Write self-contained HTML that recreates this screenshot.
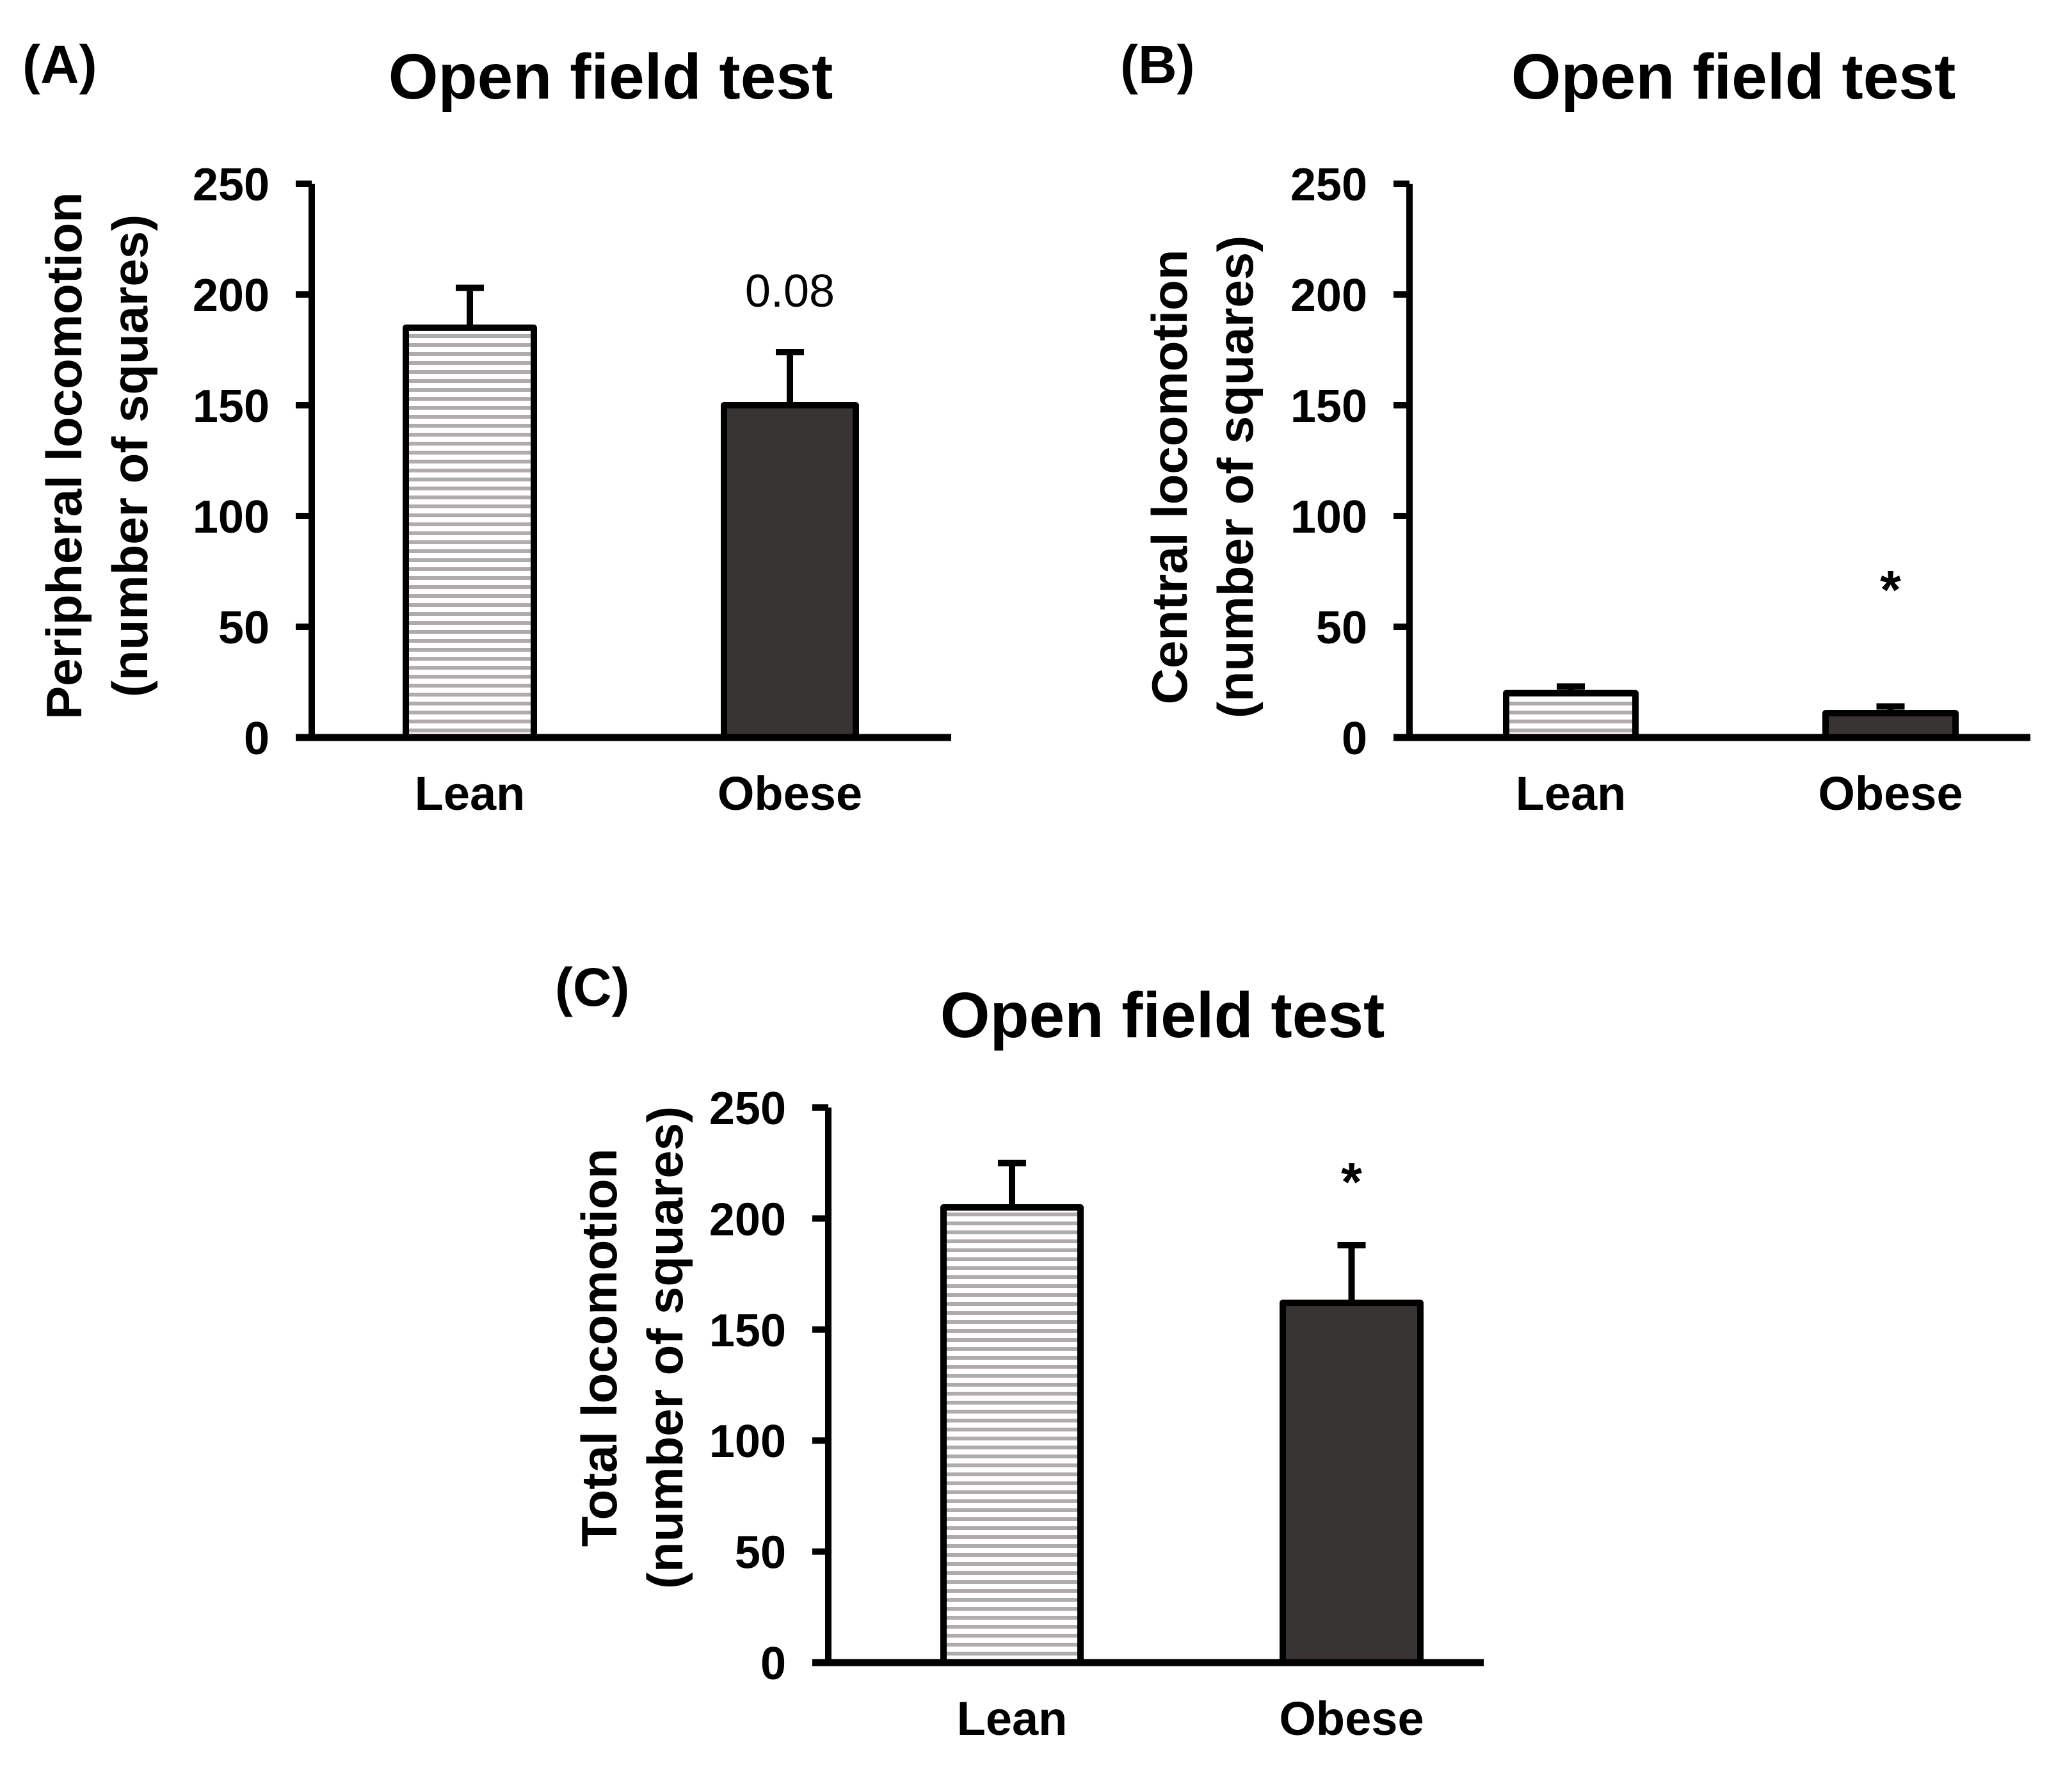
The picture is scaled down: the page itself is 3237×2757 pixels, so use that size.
<!DOCTYPE html>
<html><head><meta charset="utf-8"><style>
html,body{margin:0;padding:0;background:#fff;}
svg{display:block;}
text{font-family:"Liberation Sans",Arial,sans-serif;}
</style></head><body>
<svg id="fig" width="3237" height="2757" viewBox="0 0 3237 2757" xmlns="http://www.w3.org/2000/svg">
<defs>
<pattern id="hatch" patternUnits="userSpaceOnUse" width="20" height="14">
<rect width="20" height="14" fill="#fff"/>
<rect y="4" width="20" height="6" fill="#b0acab"/>
</pattern>
</defs>
</svg>
<script>
const categories = ["Lean", "Obese"];
const peripheralValues = [185, 150];
const peripheralErrors = [203, 174];
const centralValues = [20, 11];
const centralErrors = [23, 14];
const totalValues = [205, 162];
const totalErrors = [225, 188];
const tickLabels = [0, 50, 100, 150, 200, 250];
const yMax = 250;

const NS = "http://www.w3.org/2000/svg";
const svg = document.getElementById("fig");
function mk(tag, attrs, parent){
  const e = document.createElementNS(NS, tag);
  for (const k in attrs) e.setAttribute(k, attrs[k]);
  (parent || svg).appendChild(e);
  return e;
}

const panels = [
  {id:"a", letter:"(A)", lx:35, ly:130, title:"Open field test", tx:954, ty:154,
   ax:487, top:287, bottom:1152, xend:1486, bars:[[634,834],[1131,1337]],
   vals:peripheralValues, errs:peripheralErrors, ylab:["Peripheral locomotion","(number of squares)"],
   ylx:[100,203], yly:712, annot:{text:"0.08", idx:1, y:479, bold:false}},
  {id:"b", letter:"(B)", lx:1750, ly:130, title:"Open field test", tx:2708, ty:154,
   ax:2202, top:287, bottom:1152, xend:3172, bars:[[2353,2555],[2852,3055]],
   vals:centralValues, errs:centralErrors, ylab:["Central locomotion","(number of squares)"],
   ylx:[1827,1930], yly:745, annot:{text:"*", idx:1, y:950, bold:true}},
  {id:"c", letter:"(C)", lx:867, ly:1571, title:"Open field test", tx:1816, ty:1620,
   ax:1294, top:1730, bottom:2597, xend:2318, bars:[[1474,1688],[2004,2219]],
   vals:totalValues, errs:totalErrors, ylab:["Total locomotion","(number of squares)"],
   ylx:[936,1039], yly:2105, annot:{text:"*", idx:1, y:1875, bold:true}}
];

panels.forEach(p => {
  const g = mk("g", {});
  
  
  const yS = v => p.bottom - (v / yMax) * (p.bottom - p.top);

  const L = mk("text", {x:p.lx, y:p.ly, "font-size":84, "font-weight":"bold"}, g);
  L.textContent = p.letter;
  
  

  const T = mk("text", {x:p.tx, y:p.ty, "font-size":100, "font-weight":"bold", "text-anchor":"middle"}, g);
  T.textContent = p.title;
  
  

  categories.forEach((c, i) => {
    const [x0, x1] = p.bars[i];
    const cx = (x0 + x1) / 2;
    const yv = yS(p.vals[i]), ye = yS(p.errs[i]);
    const eb = mk("path", {d:`M${cx},${yv} L${cx},${ye} M${cx-22},${ye} L${cx+22},${ye}`, stroke:"#000", "stroke-width":10, fill:"none"}, g);
    
    
    const r = mk("rect", {x:x0, y:yv, width:x1-x0, height:p.bottom-yv,
      fill: i === 0 ? "url(#hatch)" : "#383434", stroke:"#000", "stroke-width":10, "stroke-linejoin":"round"}, g);
    
    
    const cl = mk("text", {x:cx, y:p.bottom + 113, "font-size":74, "font-weight":"bold", "text-anchor":"middle"}, g);
    cl.textContent = c;
    
    
  });

  const ya = mk("line", {x1:p.ax, y1:p.top, x2:p.ax, y2:p.bottom+4, stroke:"#000", "stroke-width":10}, g);
  
  
  const xa = mk("line", {x1:p.ax-25, y1:p.bottom, x2:p.xend, y2:p.bottom, stroke:"#000", "stroke-width":11}, g);
  
  
  tickLabels.forEach(t => {
    const y = yS(t);
    const tk = mk("line", {x1:p.ax-25, y1:y, x2:p.ax, y2:y, stroke:"#000", "stroke-width":10}, g);
    
    
    const tl = mk("text", {x:p.ax-66, y:y+26, "font-size":72, "font-weight":"bold", "text-anchor":"end"}, g);
    tl.textContent = t;
    
    
  });

  p.ylab.forEach((s, k) => {
    const yt = mk("text", {x:0, y:0, "font-size":78, "font-weight":"bold", "text-anchor":"middle",
      transform:`translate(${p.ylx[k]+27},${p.yly}) rotate(-90)`}, g);
    yt.textContent = s;
    
    
  });

  const [ax0, ax1] = p.bars[p.annot.idx];
  const an = mk("text", {x:(ax0+ax1)/2, y:p.annot.y, "font-size": p.annot.bold ? 84 : 72,
    "font-weight": p.annot.bold ? "bold" : "normal", "text-anchor":"middle"}, g);
  an.textContent = p.annot.text;
  
  
});
</script>
</body></html>
